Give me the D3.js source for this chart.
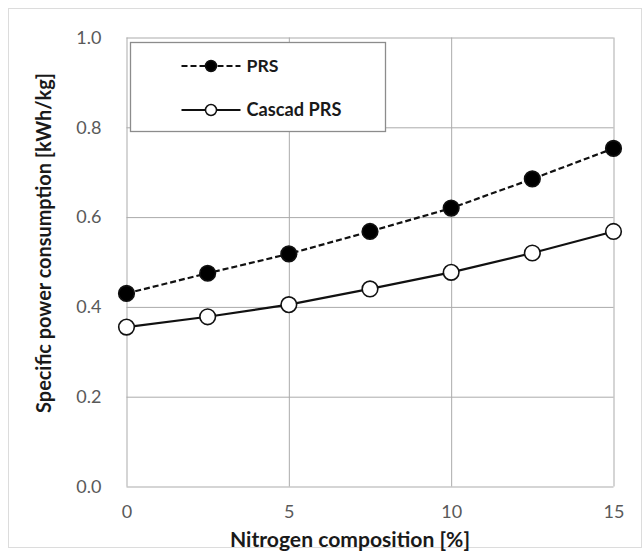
<!DOCTYPE html>
<html>
<head>
<meta charset="utf-8">
<script src="https://cdn.jsdelivr.net/npm/d3@7"></script>
<style>
  body { margin: 0; background: #fff; }
  text { font-family: Lato, "Open Sans", sans-serif; }
</style>
</head>
<body>
<svg id="chart" width="644" height="556"></svg>
<script>
const nitrogen = [0, 2.5, 5, 7.5, 10, 12.5, 15];
const prs = [0.43, 0.475, 0.518, 0.568, 0.62, 0.685, 0.753];
const cascadPrs = [0.355, 0.378, 0.405, 0.44, 0.477, 0.52, 0.568];
const xTicks = [0, 5, 10, 15];
const yTicks = [0, 0.2, 0.4, 0.6, 0.8, 1.0];
const seriesNames = ["PRS", "Cascad PRS"];

const svg = d3.select("#chart");
const margin = { top: 37.5, right: 30.5, bottom: 69.5, left: 126.5 };
const width = +svg.attr("width");
const height = +svg.attr("height");
const innerWidth = width - margin.left - margin.right;
const innerHeight = height - margin.top - margin.bottom;

// fit a text to the width it has in the picture
function fitWidth(sel, target) {
  const len = sel.node().getComputedTextLength();
  const size = parseFloat(sel.style("font-size"));
  sel.style("font-size", (size * target / len).toFixed(2) + "px");
}

// outer frame
svg.append("rect")
  .attr("x", 8.5).attr("y", 8.5)
  .attr("width", 633).attr("height", 539)
  .attr("fill", "#fff")
  .attr("stroke", "#dcdcdc");

const xScale = d3.scaleLinear().domain([0, 15]).range([0, innerWidth]);
const yScale = d3.scaleLinear().domain([0, 1]).range([innerHeight, 0]);

const g = svg.append("g")
  .attr("transform", `translate(${margin.left},${margin.top})`);

// gridlines
g.append("g")
  .attr("class", "y-grid")
  .call(d3.axisLeft(yScale).tickValues(yTicks).tickSize(-innerWidth).tickFormat(""))
  .call((s) => s.select(".domain").remove())
  .call((s) => s.selectAll("line").attr("stroke", "#ababab"));

g.append("g")
  .attr("class", "x-grid")
  .attr("transform", `translate(0,${innerHeight})`)
  .call(d3.axisBottom(xScale).tickValues(xTicks).tickSize(-innerHeight).tickFormat(""))
  .call((s) => s.select(".domain").remove())
  .call((s) => s.selectAll("line").attr("stroke", "#ababab"));

// tick labels
g.append("g")
  .attr("class", "y-axis")
  .call(d3.axisLeft(yScale).tickValues(yTicks).tickSize(0).tickPadding(25).tickFormat(d3.format(".1f")))
  .call((s) => s.select(".domain").remove())
  .call((s) => s.selectAll("text")
    .attr("fill", "#595959")
    .style("font-size", "18px"));

g.append("g")
  .attr("class", "x-axis")
  .attr("transform", `translate(0,${innerHeight})`)
  .call(d3.axisBottom(xScale).tickValues(xTicks).tickSize(0).tickPadding(19).tickFormat(d3.format("d")))
  .call((s) => s.select(".domain").remove())
  .call((s) => s.selectAll("text")
    .attr("fill", "#595959")
    .style("font-size", "18px"));

// axis titles
const xTitle = svg.append("text")
  .attr("x", 350)
  .attr("y", 547)
  .attr("text-anchor", "middle")
  .style("font-size", "19px")
  .style("font-weight", "bold")
  .attr("fill", "#1a1a1a")
  .text("Nitrogen composition [%]");
fitWidth(xTitle, 240);

const yTitle = svg.append("text")
  .attr("transform", "translate(51,243) rotate(-90)")
  .attr("text-anchor", "middle")
  .style("font-size", "19px")
  .style("font-weight", "bold")
  .attr("fill", "#1a1a1a")
  .text("Specific power consumption  [kWh/kg]");
fitWidth(yTitle, 340);

const line = d3.line()
  .x((d, i) => xScale(nitrogen[i]))
  .y((d) => yScale(d));

const series = [
  { name: seriesNames[0], values: prs, dash: "6,3", fill: "#000" },
  { name: seriesNames[1], values: cascadPrs, dash: null, fill: "#fff" },
];

series.forEach((s) => {
  g.append("path")
    .datum(s.values)
    .attr("fill", "none")
    .attr("stroke", "#111")
    .attr("stroke-width", 2.2)
    .attr("stroke-dasharray", s.dash)
    .attr("d", line);

  g.selectAll(null)
    .data(s.values)
    .enter()
    .append("circle")
    .attr("cx", (d, i) => xScale(nitrogen[i]))
    .attr("cy", (d) => yScale(d))
    .attr("r", 7.8)
    .attr("fill", s.fill)
    .attr("stroke", "#111")
    .attr("stroke-width", 1.6);
});

// legend
const legend = svg.append("g").attr("transform", "translate(130.5,42.5)");
legend.append("rect")
  .attr("width", 255).attr("height", 89)
  .attr("fill", "#fff")
  .attr("stroke", "#8c8c8c")
  .attr("stroke-width", 1.3);

series.forEach((s, i) => {
  const y = 23.5 + i * 44;
  legend.append("line")
    .attr("x1", 51).attr("x2", 110)
    .attr("y1", y).attr("y2", y)
    .attr("stroke", "#111")
    .attr("stroke-width", 2)
    .attr("stroke-dasharray", s.dash);
  legend.append("circle")
    .attr("cx", 80.5).attr("cy", y).attr("r", 5.5)
    .attr("fill", s.fill)
    .attr("stroke", "#111")
    .attr("stroke-width", 1.5);
  const t = legend.append("text")
    .attr("x", 116).attr("y", y + 6)
    .style("font-size", "17px")
    .style("font-weight", "bold")
    .attr("fill", "#1a1a1a")
    .text(s.name);
  fitWidth(t, i === 0 ? 32 : 95);
});
</script>
</body>
</html>
